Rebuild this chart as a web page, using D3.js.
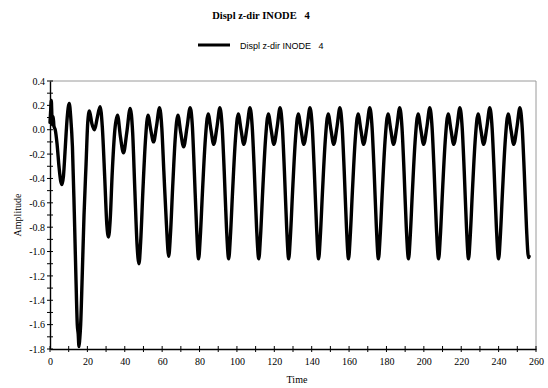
<!DOCTYPE html>
<html>
<head>
<meta charset="utf-8">
<script src="https://cdn.jsdelivr.net/npm/d3@7"></script>
<style>
  html, body { margin: 0; padding: 0; background: #fff; }
  svg { display: block; }
</style>
</head>
<body>
<svg id="chart" width="548" height="388"></svg>
<script>
// Displacement history of node 4, z direction
const seriesName = "Displ z-dir INODE   4";
const titleText = "Displ z-dir INODE   4";
const xLabel = "Time";
const yLabel = "Amplitude";

const time = [
  0.0, 0.3, 0.7, 1.0, 1.3, 1.7, 2.1, 2.8, 3.8, 4.8, 5.7, 6.4, 7.2, 8.2, 9.2, 10.3, 11.1, 12.0, 13.0, 13.9,
  14.6, 15.1, 15.5, 15.9, 16.4, 17.2, 18.2, 19.3, 20.2, 21.1, 22.4, 23.8, 25.3, 26.8, 28.0, 29.3, 30.4, 31.3,
  32.2, 33.3, 34.7, 36.1, 37.7, 39.3, 41.1, 42.9, 44.2, 45.4, 46.6, 47.6,
  48.5, 49.7, 51.1, 52.4, 53.9, 55.4, 57.0, 58.6, 59.8, 60.9, 62.3, 63.5,
  64.4, 65.6, 67.0, 68.4, 69.9, 71.5, 73.3, 75.0, 76.2, 77.2, 78.4, 79.5,
  80.4, 81.6, 83.1, 84.6, 86.1, 87.6, 89.3, 90.9, 92.1, 93.2, 94.4, 95.6,
  96.5, 97.7, 99.2, 100.7, 102.2, 103.7, 105.4, 107.0, 108.2, 109.3, 110.5, 111.7,
  112.6, 113.8, 115.3, 116.8, 118.3, 119.8, 121.5, 123.1, 124.3, 125.4, 126.6, 127.7,
  128.6, 129.8, 131.3, 132.8, 134.3, 135.8, 137.5, 139.1, 140.3, 141.4, 142.6, 143.7,
  144.6, 145.8, 147.3, 148.8, 150.3, 151.8, 153.5, 155.1, 156.3, 157.4, 158.6, 159.7,
  160.6, 161.8, 163.3, 164.8, 166.3, 167.8, 169.5, 171.1, 172.3, 173.4, 174.6, 175.7,
  176.6, 177.8, 179.3, 180.8, 182.3, 183.8, 185.5, 187.1, 188.3, 189.4, 190.6, 191.8,
  192.7, 193.9, 195.4, 196.9, 198.4, 199.9, 201.6, 203.2, 204.4, 205.5, 206.7, 207.9,
  208.8, 210.0, 211.5, 213.0, 214.5, 216.0, 217.7, 219.3, 220.5, 221.6, 222.8, 223.9,
  224.8, 226.0, 227.5, 229.0, 230.5, 232.0, 233.7, 235.3, 236.5, 237.6, 238.8, 240.0,
  240.9, 242.1, 243.6, 245.1, 246.6, 248.1, 249.8, 251.4, 252.6, 253.7, 254.9, 256.0, 256.3
];

const amplitude = [
  0.06, 0.14, 0.24, 0.12, 0.04, 0.11, 0.03, 0.00, -0.12, -0.30, -0.42, -0.45, -0.38, -0.14, 0.10, 0.215, 0.10, -0.14, -0.68, -1.23,
  -1.60, -1.68, -1.78, -1.72, -1.60, -1.22, -0.70, -0.28, 0.06, 0.155, 0.05, 0.00, 0.10, 0.19, 0.02, -0.40, -0.78, -0.88,
  -0.74, -0.35, 0.00, 0.12, -0.06, -0.19, -0.02, 0.175, -0.02, -0.50, -0.95, -1.10,
  -0.92, -0.50, -0.08, 0.12, 0.00, -0.10, 0.03, 0.18, 0.02, -0.34, -0.78, -1.04,
  -0.87, -0.48, -0.07, 0.12, -0.02, -0.14, 0.02, 0.18, 0.02, -0.34, -0.80, -1.06,
  -0.88, -0.50, -0.08, 0.13, 0.00, -0.12, 0.02, 0.18, 0.02, -0.34, -0.80, -1.06,
  -0.88, -0.50, -0.08, 0.13, 0.00, -0.12, 0.02, 0.18, 0.02, -0.34, -0.80, -1.06,
  -0.88, -0.50, -0.08, 0.13, 0.00, -0.12, 0.02, 0.18, 0.02, -0.34, -0.80, -1.06,
  -0.88, -0.50, -0.08, 0.13, 0.00, -0.12, 0.02, 0.18, 0.02, -0.34, -0.80, -1.06,
  -0.88, -0.50, -0.08, 0.13, 0.00, -0.12, 0.02, 0.18, 0.02, -0.34, -0.80, -1.06,
  -0.88, -0.50, -0.08, 0.13, 0.00, -0.12, 0.02, 0.18, 0.02, -0.34, -0.80, -1.06,
  -0.88, -0.50, -0.08, 0.13, 0.00, -0.12, 0.02, 0.18, 0.02, -0.34, -0.80, -1.06,
  -0.88, -0.50, -0.08, 0.13, 0.00, -0.12, 0.02, 0.18, 0.02, -0.34, -0.80, -1.06,
  -0.88, -0.50, -0.08, 0.13, 0.00, -0.12, 0.02, 0.18, 0.02, -0.34, -0.80, -1.06,
  -0.88, -0.50, -0.08, 0.13, 0.00, -0.12, 0.02, 0.18, 0.02, -0.34, -0.80, -1.06,
  -0.88, -0.50, -0.08, 0.13, 0.00, -0.12, 0.02, 0.18, 0.02, -0.34, -0.80, -1.05, -1.04
];

const xTicks = [0, 20, 40, 60, 80, 100, 120, 140, 160, 180, 200, 220, 240, 260];
const xMinorTicks = [10, 30, 50, 70, 90, 110, 130, 150, 170, 190, 210, 230, 250];
const yTicks = [0.4, 0.2, 0.0, -0.2, -0.4, -0.6, -0.8, -1.0, -1.2, -1.4, -1.6, -1.8];
const yTickLabels = ["0.4", "0.2", "0.0", "-0.2", "-0.4", "-0.6", "-0.8", "-1.0", "-1.2", "-1.4", "-1.6", "-1.8"];
const yMinorTicks = [0.3, 0.1, -0.1, -0.3, -0.5, -0.7, -0.9, -1.1, -1.3, -1.5, -1.7];

const serif = "'Liberation Serif', 'Times New Roman', serif";
const sans = "'Liberation Sans', Arial, sans-serif";

const margin = { left: 50, right: 12, top: 81, bottom: 39 };
const W = 548, H = 388;
const svg = d3.select("#chart");

const x = d3.scaleLinear().domain([0, 260]).range([margin.left, W - margin.right]);
const y = d3.scaleLinear().domain([-1.8, 0.4]).range([H - margin.bottom, margin.top]);

// light frame on top and right
svg.append("path")
  .attr("d", `M${x(0)},${y(0.4)}H${x(260)}V${y(-1.8)}`)
  .attr("fill", "none")
  .attr("stroke", "#9a9a9a")
  .attr("stroke-width", 1);

// the curve
const pts = time.map((t, i) => [t, amplitude[i]]);
const line = d3.line()
  .x(d => x(d[0]))
  .y(d => y(d[1]))
  .curve(d3.curveMonotoneX);

svg.append("path")
  .datum(pts)
  .attr("d", line)
  .attr("fill", "none")
  .attr("stroke", "#000")
  .attr("stroke-width", 3.4)
  .attr("stroke-linejoin", "round")
  .attr("stroke-linecap", "round");

// x axis
const xAxis = svg.append("g").attr("transform", `translate(0,${y(-1.8)})`);
xAxis.call(d3.axisBottom(x).tickValues(xTicks).tickSize(0).tickFormat(d3.format("d")).tickPadding(9));
xAxis.select(".domain").attr("stroke", "#000").attr("stroke-width", 1.4);
xAxis.selectAll(".tick text").attr("font-family", serif).attr("font-size", 10).attr("fill", "#000");
xAxis.selectAll(".tickmark")
  .data(xTicks.concat(xMinorTicks))
  .join("line")
  .attr("x1", d => x(d)).attr("x2", d => x(d))
  .attr("y1", -3).attr("y2", 3)
  .attr("stroke", "#000").attr("stroke-width", 1);

// y axis
const yAxis = svg.append("g").attr("transform", `translate(${x(0)},0)`);
yAxis.call(d3.axisLeft(y).tickValues(yTicks).tickSize(0).tickPadding(5)
  .tickFormat((d, i) => yTickLabels[i]));
yAxis.select(".domain").attr("stroke", "#000").attr("stroke-width", 1.4);
yAxis.selectAll(".tick text").attr("font-family", serif).attr("font-size", 10).attr("fill", "#000");
yAxis.selectAll(".tickmark")
  .data(yTicks.concat(yMinorTicks))
  .join("line")
  .attr("y1", d => y(d)).attr("y2", d => y(d))
  .attr("x1", -3).attr("x2", 3)
  .attr("stroke", "#000").attr("stroke-width", 1);

// axis titles
svg.append("text")
  .attr("x", 297).attr("y", 383)
  .attr("text-anchor", "middle")
  .attr("font-family", serif).attr("font-size", 10)
  .text(xLabel);

svg.append("text")
  .attr("transform", `translate(21,${(y(0.4) + y(-1.8)) / 2}) rotate(-90)`)
  .attr("text-anchor", "middle")
  .attr("font-family", serif).attr("font-size", 10)
  .text(yLabel);

// title
svg.append("text")
  .attr("x", 261).attr("y", 19)
  .attr("text-anchor", "middle")
  .attr("font-family", serif).attr("font-size", 10.5).attr("font-weight", "bold")
  .attr("xml:space", "preserve")
  .style("white-space", "pre")
  .text(titleText);

// legend
const legend = svg.append("g");
legend.append("line")
  .attr("x1", 198).attr("x2", 230)
  .attr("y1", 45).attr("y2", 45)
  .attr("stroke", "#000").attr("stroke-width", 3);
legend.append("text")
  .attr("x", 240).attr("y", 48.5)
  .attr("font-family", sans).attr("font-size", 9)
  .style("white-space", "pre")
  .text(seriesName);
</script>
</body>
</html>
